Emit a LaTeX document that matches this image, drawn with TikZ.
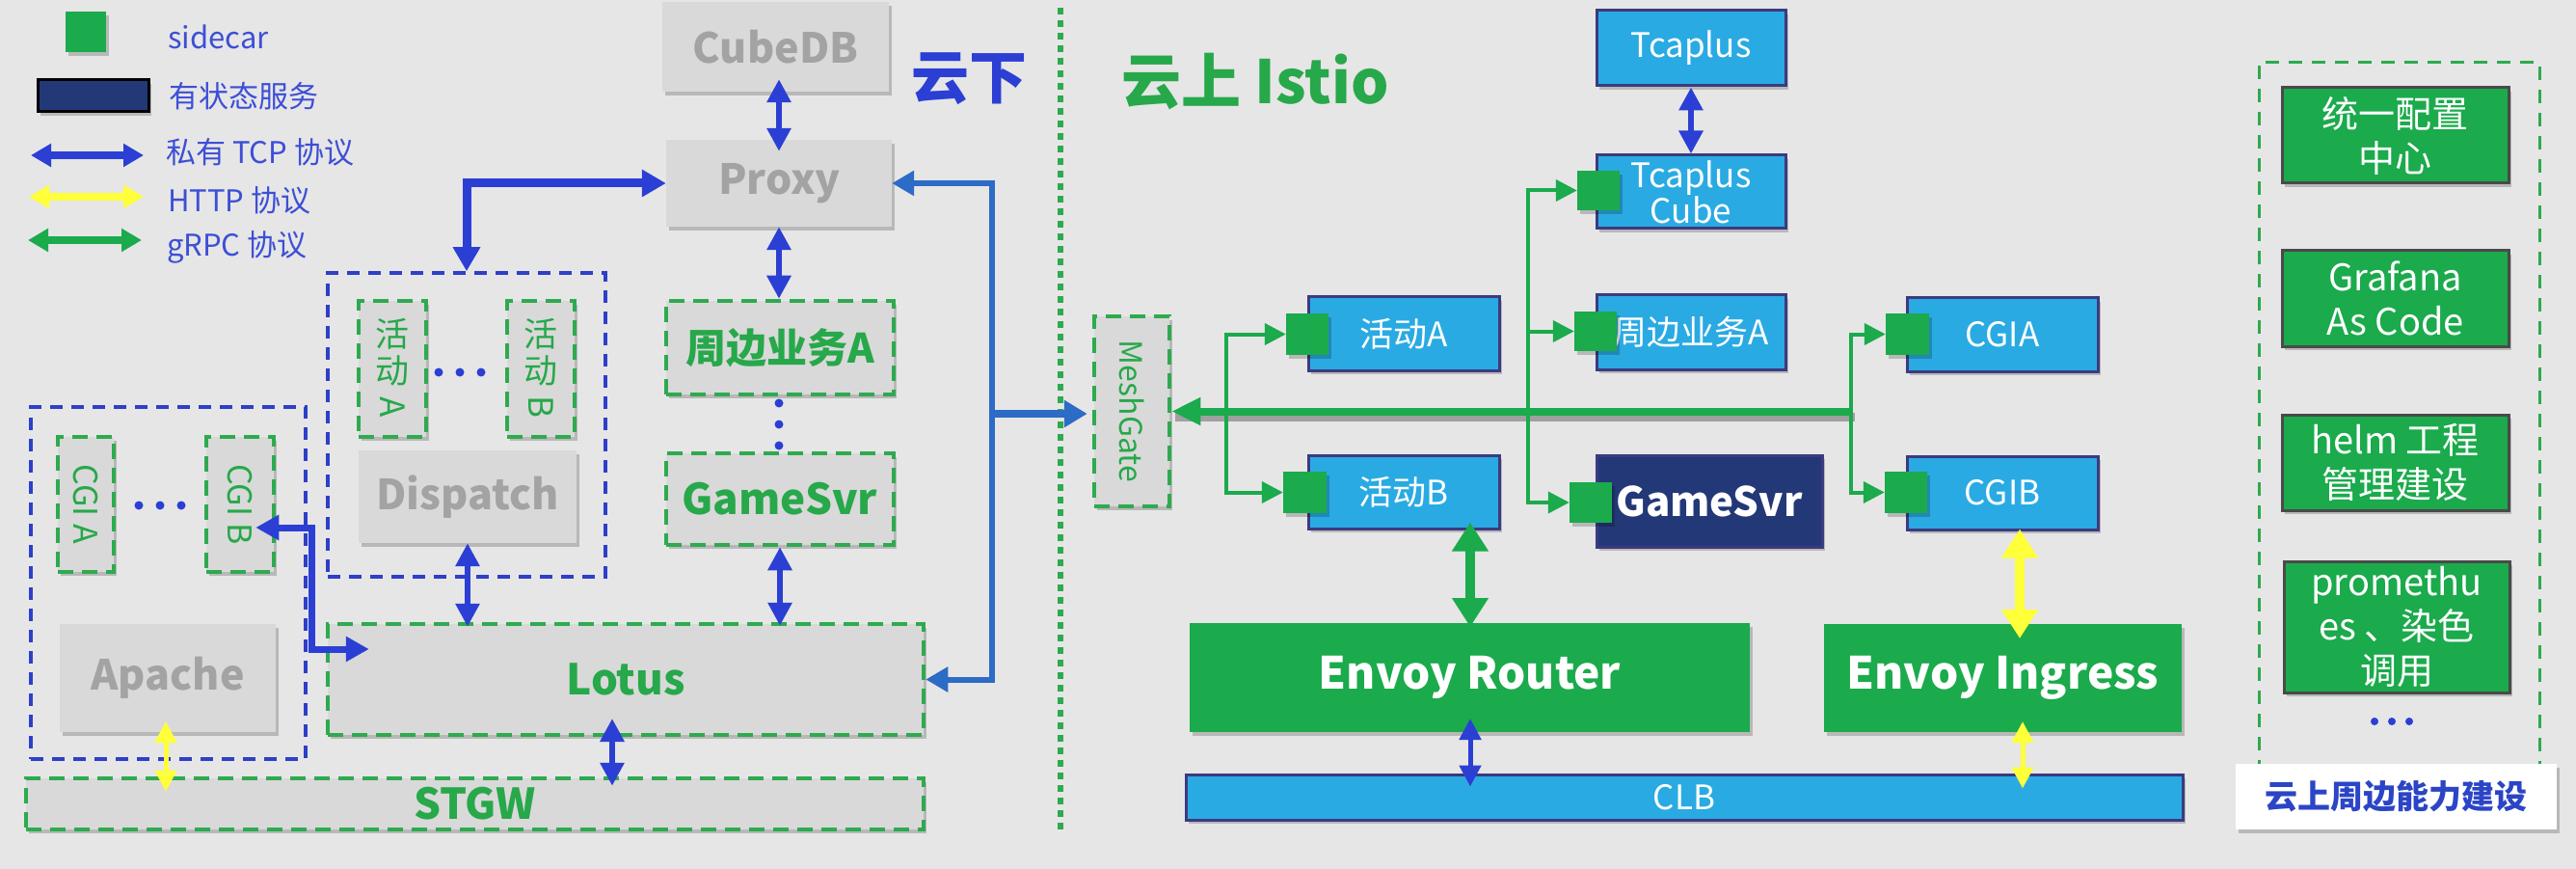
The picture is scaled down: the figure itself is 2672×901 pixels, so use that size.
\documentclass[tikz,border=0pt]{standalone}
\usepackage{fontspec}
\usepackage{graphicx}
\setmainfont{Noto Sans CJK SC}
\usetikzlibrary{arrows.meta,shadows,calc}
\definecolor{bgc}{HTML}{E6E6E6}
\definecolor{grayfill}{HTML}{D9D9D9}
\definecolor{graytext}{HTML}{A3A3A3}
\definecolor{gdashc}{HTML}{2EAA4F}
\definecolor{gtext}{HTML}{27A84A}
\definecolor{tcpc}{HTML}{2B3FD4}
\definecolor{steelc}{HTML}{2C6BC6}
\definecolor{lblue}{HTML}{2AAAE3}
\definecolor{lborder}{HTML}{3C3A80}
\definecolor{navyc}{HTML}{233877}
\definecolor{gfill}{HTML}{1BAA4C}
\definecolor{yelc}{HTML}{FFFF3A}
\definecolor{legc}{HTML}{3D4FD6}
\definecolor{dbluec}{HTML}{2E3FC8}
\definecolor{rborder}{HTML}{4A4A4A}
\definecolor{labc}{HTML}{2B45C6}
\newcommand\fsz[2]{\fontsize{#1}{#2}\selectfont}
\newcommand\rotlat[1]{\rotatebox[origin=c]{-90}{#1}}
\begin{document}
\begin{tikzpicture}[x=1pt,y=-1pt,
  shd/.style={drop shadow={shadow xshift=3pt,shadow yshift=-4pt,opacity=0.2,fill=black}},
  sz/.style 2 args={minimum width=#1pt,minimum height=#2pt},
  graybox/.style={shd,fill=grayfill,text=graytext,font=\fsz{43}{50}\bfseries,inner sep=0pt},
  gdash/.style={shd,fill=grayfill,draw=gdashc,line width=4.5pt,dash pattern=on 16pt off 9pt,text=gtext,inner sep=0pt},
  bdash/.style={draw=dbluec,line width=3.5pt,dash pattern=on 13pt off 9pt,inner sep=0pt},
  bluebox/.style={shd,fill=lblue,draw=lborder,line width=3pt,text=white,font=\fsz{35}{37},inner sep=0pt,align=center},
  sidecar/.style={shd,fill=gfill,minimum width=44pt,minimum height=42pt,inner sep=0pt},
  greenbox/.style={shd,fill=gfill,text=white,font=\fsz{46}{52}\bfseries,inner sep=0pt},
  rbox/.style={shd,fill=gfill,draw=rborder,line width=3pt,text=white,font=\fsz{38}{46},align=center,inner sep=0pt},
  vtext/.style={rotate=-90,text=gtext,font=\fsz{34}{40},inner sep=0pt},
  vstack/.style={text=gtext,font=\fsz{35}{38},align=center,inner sep=0pt},
  legtext/.style={text=legc,font=\fsz{31}{36},inner sep=0pt,anchor=west},
  legarr/.style={line width=8pt,arrows={Triangle[length=21pt,width=23pt]-Triangle[length=21pt,width=23pt]}},
  tcparr/.style={draw=tcpc,line width=6pt,arrows={Triangle[length=24pt,width=24pt]-Triangle[length=24pt,width=24pt]}},
  tcpfat/.style={draw=tcpc,line width=9pt,arrows={Triangle[length=25pt,width=27pt]-Triangle[length=25pt,width=27pt]}},
  tcpmid/.style={draw=tcpc,line width=7pt,arrows={Triangle[length=24pt,width=25pt]-Triangle[length=24pt,width=25pt]}},
  tcpthin/.style={draw=tcpc,line width=5pt,arrows={Triangle[length=22pt,width=22pt]-Triangle[length=22pt,width=22pt]}},
  ythin/.style={draw=yelc,line width=5pt,arrows={Triangle[length=22pt,width=22pt]-Triangle[length=22pt,width=22pt]}},
  steelarr/.style={draw=steelc,line width=6pt,arrows={Triangle[length=23pt,width=25pt]-Triangle[length=23pt,width=25pt]}},
  gthick/.style={draw=gfill,line width=10pt,arrows={Triangle[length=30pt,width=36pt]-Triangle[length=30pt,width=36pt]}},
  ythick/.style={draw=yelc,line width=10pt,arrows={Triangle[length=30pt,width=36pt]-Triangle[length=30pt,width=36pt]}},
  gmain/.style={draw=gfill,line width=8pt,arrows={-Triangle[length=30pt,width=27pt]}},
  gbr/.style={draw=gfill,line width=4pt,arrows={-Triangle[length=22pt,width=22pt]}}
]
\fill[bgc] (0,0) rectangle (2672,901);
\useasboundingbox (0,0) rectangle (2672,901);

% ---------- legend ----------
\node[sidecar,sz={42}{42}] (lsc) at (89,33) {};
\node[legtext] (lsct) at (174,38) {sidecar};
\node[shd,fill=navyc,draw=black,line width=3pt,sz={115}{33},inner sep=0pt] (lst) at (96.5,99.5) {};
\node[legtext] (lstt) at (175,100) {有状态服务};
\coordinate (lta) at (32,161); \coordinate (ltb) at (149,161);
\draw[legarr,draw=tcpc] (lta) -- (ltb);
\node[legtext] (ltt) at (172,158) {私有 TCP 协议};
\coordinate (lha) at (30,204); \coordinate (lhb) at (149,204);
\draw[legarr,draw=yelc] (lha) -- (lhb);
\node[legtext] (lht) at (174,208) {HTTP 协议};
\coordinate (lga) at (29,249); \coordinate (lgb) at (147,249);
\draw[legarr,draw=gfill] (lga) -- (lgb);
\node[legtext] (lgt) at (173,256) {gRPC 协议};

% ---------- left (云下) ----------
\node[bdash,sz={288}{315}] (cont1) at (484,440.5) {};
\node[bdash,sz={285}{365}] (cont2) at (174.5,604.5) {};
\node[graybox,sz={235}{93}] (cubedb) at (804.5,48.5) {CubeDB};
\node[graybox,sz={234}{90}] (proxy) at (808,190) {Proxy};
\node[text=tcpc,font=\fsz{60}{60}\bfseries,inner sep=0pt] (yunxia) at (1005,82) {云下};
\node[gdash,sz={236}{97},font=\fsz{42}{48}\bfseries] (zba) at (809,360.5) {周边业务A};
\node[gdash,sz={236}{95},font=\fsz{44}{50}\bfseries] (gsl) at (809,517.5) {GameSvr};
\node[gdash,sz={70}{141}] (hda) at (407,382.5) {};
\node[vstack] (hdat) at (hda.center) {活\\动\\\rotlat{A}};
\node[gdash,sz={70}{141}] (hdb) at (561,382.5) {};
\node[vstack] (hdbt) at (hdb.center) {活\\动\\\rotlat{B}};
\node[graybox,sz={226}{96}] (dispatch) at (485,515) {Dispatch};
\node[gdash,sz={58}{140}] (cgia) at (89,523) {};
\node[vtext] (cgiat) at (cgia.center) {CGI A};
\node[gdash,sz={70}{140}] (cgib) at (249,523) {};
\node[vtext] (cgibt) at (cgib.center) {CGI B};
\node[graybox,sz={224}{112}] (apache) at (174,703) {Apache};
\node[gdash,sz={618}{115},font=\fsz{44}{50}\bfseries] (lotus) at (649,704.5) {Lotus};
\node[gdash,sz={931}{53},font=\fsz{44}{50}\bfseries] (stgw) at (492.5,833.5) {STGW};

% dots
\foreach \px/\py in {455/386,477/386,499/386,144/524,166/524,188/524,808/418,808/440,808/462}
  \fill[tcpc] (\px,\py) circle (4.5pt);

% left arrows
\draw[tcparr,shorten <=-13pt,shorten >=-12pt] (proxy.north |- cubedb.south) -- (proxy.north);
\draw[tcparr] (proxy.south) -- (proxy.south |- zba.north);
\draw[tcparr,shorten >=-4pt] (gsl.south) -- (gsl.south |- lotus.north);
\draw[tcparr,shorten >=-5pt] (dispatch.south) -- (dispatch.south |- lotus.north);
\coordinate (ls) at (635,762);
\draw[tcparr,shorten <=-17pt,shorten >=-10pt] (ls) -- (ls |- stgw.north);
\coordinate (as) at (172,759);
\draw[ythin,shorten <=-11pt,shorten >=-16pt] (as) -- (as |- stgw.north);
\draw[tcpfat] (proxy.west) -| (cont1.north);
\coordinate (cb1) at (323,547); \coordinate (cb2) at (323,673);
\draw[tcpmid,shorten <=-21pt,shorten >=-45pt] (cgib.east |- cb1) -- (cb1) -- (cb2) -- (lotus.west |- cb2);
\coordinate (s1) at (1029,190); \coordinate (s2) at (1029,704.5); \coordinate (sm) at (1029,429);
\draw[steelarr] (proxy.east) -- (s1) -- (s2) -- (lotus.east);

% separator
\coordinate (sepa) at (1100,8); \coordinate (sepb) at (1100,862);
\draw[gdashc,line width=6pt,dash pattern=on 7pt off 6pt] (sepa) -- (sepb);

% ---------- right (云上 Istio) ----------
\node[text=gtext,font=\fsz{62}{62}\bfseries,inner sep=0pt] (yunshang) at (1302,85) {云上 Istio};
\node[gdash,sz={78}{197}] (meshgate) at (1174,426.5) {};
\node[vtext,font=\fsz{32}{36}] (meshgatet) at (meshgate.center) {MeshGate};
\draw[steelarr,line width=8pt,arrows={-Triangle[length=24pt,width=27pt]},shorten >=5pt] (sm) -- (sm -| meshgate.west);

\node[bluebox,sz={196}{78}] (tcaplus) at (1754,50) {Tcaplus};
\node[bluebox,sz={196}{76}] (tcube) at (1754,199) {Tcaplus\\Cube};
\node[bluebox,sz={198}{76}] (hda2) at (1456,346) {活动A};
\node[bluebox,sz={196}{77}] (zba2) at (1754,344.5) {周边业务A};
\node[bluebox,sz={198}{76}] (hdb2) at (1456,510) {活动B};
\node[bluebox,fill=navyc,sz={234}{95},font=\fsz{42}{48}\bfseries] (gsr) at (1773,519.5) {GameSvr};
\node[bluebox,sz={198}{76}] (cgia2) at (2077,347) {CGIA};
\node[bluebox,sz={198}{76}] (cgib2) at (2077,511) {CGIB};
\node[greenbox,sz={581}{113}] (envr) at (1524.5,702.5) {Envoy Router};
\node[greenbox,sz={371}{112}] (envi) at (2077.5,703) {Envoy Ingress};
\node[bluebox,sz={1034}{47}] (clb) at (1747,826.5) {CLB};

\draw[tcparr] (tcaplus.south) -- (tcube.north);

% green mesh lines
\coordinate (j1) at (1272,426.5); \coordinate (j2) at (1585,426.5); \coordinate (j3) at (1920,426.5);
\draw[black,opacity=0.3,line width=9pt,transform canvas={xshift=4pt,yshift=-6pt}] (j3) -- (j3 -| meshgate.east);

% sidecars
\node[sidecar,sz={44}{41}] (sct) at (1658,197.5) {};
\node[sidecar,sz={44}{43}] (sca2) at (1356,346.5) {};
\node[sidecar,sz={44}{41}] (scz) at (1655,343.5) {};
\node[sidecar,sz={45}{43}] (scb2) at (1353.5,510.5) {};
\node[sidecar,sz={44}{42}] (scg) at (1650,521) {};
\node[sidecar,sz={45}{43}] (scca) at (1978.5,346.5) {};
\node[sidecar,sz={44}{43}] (sccb) at (1977,510.5) {};

\draw[gmain] (j3) -- (j3 -| meshgate.east);
\draw[gbr] (j1) |- (sca2.west);
\draw[gbr] (j1) |- (scb2.west);
\draw[gbr] (j2) |- (sct.west);
\draw[gbr] (j2) |- (scz.west);
\draw[gbr] (j2) |- (scg.west);
\draw[gbr] (j3) |- (scca.west);
\draw[gbr] (j3) |- (sccb.west);

% vertical arrows right
\coordinate (er) at (1525,646);
\draw[gthick,shorten <=-4pt,shorten >=-8pt] (er) -- (er |- hdb2.south);
\coordinate (ei) at (2095,647);
\draw[ythick,shorten <=-15pt,shorten >=-2pt] (ei) -- (ei |- cgib2.south);
\coordinate (erb) at (1525,759);
\draw[tcpthin,shorten <=-14pt,shorten >=-14pt] (erb) -- (erb |- clb.north);
\coordinate (eib) at (2098,759);
\draw[ythin,shorten <=-11pt,shorten >=-16pt] (eib) -- (eib |- clb.north);

% ---------- right panel ----------
\node[draw=gdashc,line width=3pt,dash pattern=on 14pt off 10pt,sz={291}{735},inner sep=0pt] (rcont) at (2488.5,432.5) {};
\node[rbox,sz={235}{99}] (r1) at (2484.5,140.5) {统一配置\\中心};
\node[rbox,sz={235}{99}] (r2) at (2484.5,309.5) {Grafana\\As Code};
\node[rbox,sz={235}{99}] (r3) at (2484.5,479.5) {helm 工程\\管理建设};
\node[rbox,sz={234}{136}] (r4) at (2486,650) {promethu\\es 、染色\\调用};
\foreach \px in {2463,2481,2499}
  \fill[tcpc] (\px,748) circle (4pt);
\node[shd,fill=white,sz={333}{68},text=labc,font=\fsz{34}{40}\bfseries,inner sep=0pt] (rlab) at (2485.5,826) {云上周边能力建设};
\end{tikzpicture}
\end{document}
